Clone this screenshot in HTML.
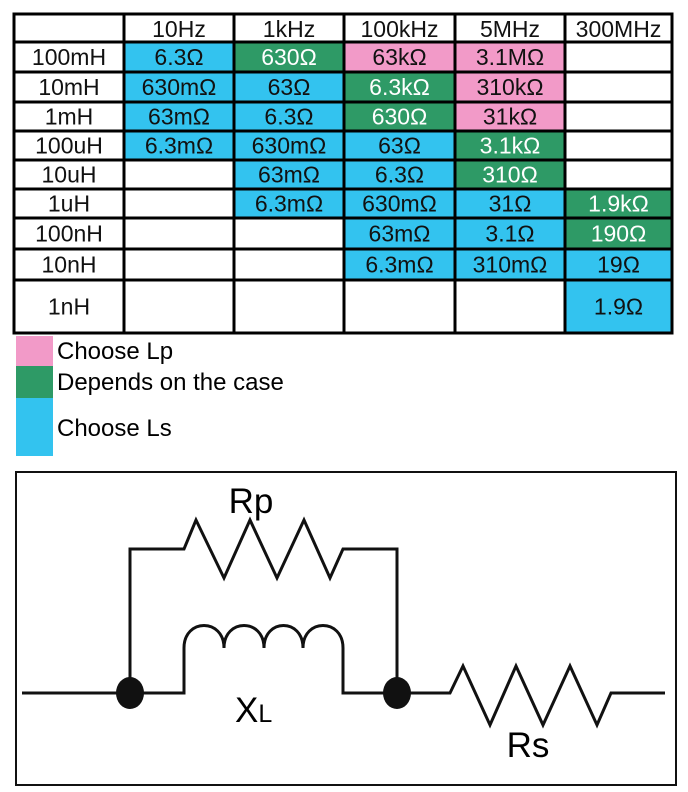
<!DOCTYPE html>
<html><head><meta charset="utf-8"><style>
html,body{margin:0;padding:0;background:#fff;}
svg{display:block;font-family:"Liberation Sans",Arial,sans-serif;}
</style></head><body>
<svg id="s" width="688" height="792" viewBox="0 0 688 792">
<g id="table"></g>
<g>
<rect x="16" y="336" width="37" height="30" fill="#f29ac8"/>
<rect x="16" y="366" width="37" height="32" fill="#2e9a66"/>
<rect x="16" y="398" width="37" height="58" fill="#33c3ef"/>
<text x="57" y="359" font-size="24">Choose Lp</text>
<text x="57" y="390" font-size="24">Depends on the case</text>
<text x="57" y="436" font-size="24">Choose Ls</text>
</g>
<g fill="none" stroke="#111" stroke-width="3">
<rect x="16" y="472" width="660" height="313" stroke-width="2"/>
<polyline points="22,693 130,693 130,549 184,549 196,520 224,578 250,520 277,578 304,520 330,578 343,549 397,549 397,693 450,693 463,666 490,725 516,666 543,725 570,666 597,725 611,693 665,693"/>
<path d="M130,693 H184 V648 C184,618 224,618 224,648 C224,618 264,618 264,648 C264,618 303,618 303,648 C303,618 343,618 343,648 V693 H397"/>
</g>
<ellipse cx="130" cy="693" rx="14" ry="16" fill="#111"/>
<ellipse cx="397" cy="693" rx="14" ry="16" fill="#111"/>
<text x="251" y="513" font-size="35" text-anchor="middle">Rp</text>
<text x="235" y="722" font-size="35">X<tspan font-size="25">L</tspan></text>
<text x="528" y="757" font-size="35" text-anchor="middle">Rs</text>
</svg>
<script>
const freqs=["10Hz","1kHz","100kHz","5MHz","300MHz"];
const inductances=["100mH","10mH","1mH","100uH","10uH","1uH","100nH","10nH","1nH"];
const values=[
["6.3Ω","630Ω","63kΩ","3.1MΩ",""],
["630mΩ","63Ω","6.3kΩ","310kΩ",""],
["63mΩ","6.3Ω","630Ω","31kΩ",""],
["6.3mΩ","630mΩ","63Ω","3.1kΩ",""],
["","63mΩ","6.3Ω","310Ω",""],
["","6.3mΩ","630mΩ","31Ω","1.9kΩ"],
["","","63mΩ","3.1Ω","190Ω"],
["","","6.3mΩ","310mΩ","19Ω"],
["","","","","1.9Ω"]];
const choice=[
["s","g","p","p",""],
["s","s","g","p",""],
["s","s","g","p",""],
["s","s","s","g",""],
["","s","s","g",""],
["","s","s","s","g"],
["","","s","s","g"],
["","","s","s","s"],
["","","","","s"]];
const colX=[14,124,234,344,455,565,672];
const rowY=[14,42,72,102,131,160,189,218,249,280,333];
const fills={s:"#33c3ef",g:"#2e9a66",p:"#f29ac8"};
const NS="http://www.w3.org/2000/svg";
const T=document.getElementById('table');
function mk(tag,a){const e=document.createElementNS(NS,tag);for(const k in a)e.setAttribute(k,a[k]);T.appendChild(e);return e;}
function txt(x,y,s,col,name){const e=mk('text',{x:x,y:y,'font-size':23,'text-anchor':'middle',fill:col});


e.textContent=s;}
for(let r=0;r<inductances.length;r++){for(let c=0;c<freqs.length;c++){
const x0=colX[c+1],x1=colX[c+2],y0=rowY[r+1],y1=rowY[r+2];
const k=choice[r][c];
if(k){const rc=mk('rect',{x:x0,y:y0,width:x1-x0,height:y1-y0,fill:fills[k]});

}
if(values[r][c])txt((x0+x1)/2,(y0+y1)/2+8,values[r][c],k==='g'?'#fff':'#111','value-'+inductances[r]+'-'+freqs[c]);
}}
for(let c=0;c<freqs.length;c++)txt((colX[c+1]+colX[c+2])/2,rowY[1]-5,freqs[c],'#111','header-'+freqs[c]);
for(let r=0;r<inductances.length;r++)txt((colX[0]+colX[1])/2,(rowY[r+1]+rowY[r+2])/2+8,inductances[r],'#111','row-label-'+inductances[r]);
for(const x of colX){const l=mk('line',{x1:x,y1:rowY[0]-1.5,x2:x,y2:rowY[rowY.length-1]+1.5,stroke:'#000','stroke-width':3});

}
for(const y of rowY){const l=mk('line',{x1:colX[0],y1:y,x2:colX[colX.length-1],y2:y,stroke:'#000','stroke-width':3});

}
</script>
</body></html>
